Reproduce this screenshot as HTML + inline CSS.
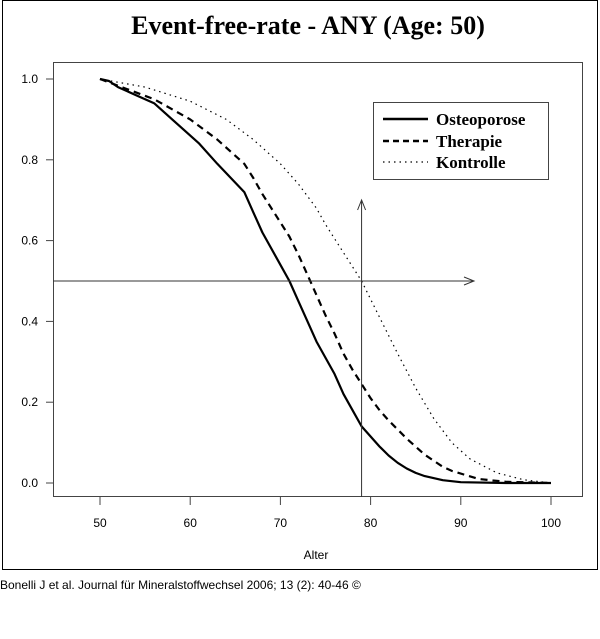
<!DOCTYPE html>
<html><head><meta charset="utf-8"><style>
body{margin:0;background:#fff;width:600px;height:634px;overflow:hidden}
svg text{font-family:"Liberation Sans",sans-serif}
</style></head><body>
<svg width="600" height="634">
<rect x="2.5" y="0.5" width="595" height="569" fill="#fff" stroke="#000"/>
<text x="308" y="34" text-anchor="middle" font-size="26" font-weight="bold" style="font-family:'Liberation Serif',serif">Event-free-rate - ANY (Age: 50)</text>
<rect x="53.5" y="62.5" width="529" height="434" fill="none" stroke="#444"/>
<g id="axes"></g>
<g id="series"></g>
<text x="316" y="559" text-anchor="middle" font-size="12">Alter</text>
<text x="0" y="589" font-size="12">Bonelli J et al. Journal für Mineralstoffwechsel 2006; 13 (2): 40-46 ©</text>
<g>
<rect x="373.5" y="102.5" width="175" height="77" fill="#fff" stroke="#444"/>
<line x1="383" y1="119" x2="428" y2="119" stroke="#000" stroke-width="2.5"/>
<line x1="383" y1="141" x2="428" y2="141" stroke="#000" stroke-width="2.5" stroke-dasharray="6,4"/>
<line x1="383" y1="162" x2="428" y2="162" stroke="#000" stroke-width="1.2" stroke-dasharray="1.5,4"/>
<text x="436" y="125" font-size="17" font-weight="bold" style="font-family:'Liberation Serif',serif">Osteoporose</text>
<text x="436" y="147" font-size="17" font-weight="bold" style="font-family:'Liberation Serif',serif">Therapie</text>
<text x="436" y="168" font-size="17" font-weight="bold" style="font-family:'Liberation Serif',serif">Kontrolle</text>
</g>
</svg>
<script>
const xTicks=[50,60,70,80,90,100];
const yTicks=[0,0.2,0.4,0.6,0.8,1.0];
const osteoX=[50,51,52,54,56,58,61,63,66,67,68,70,71,72,73,74,76,77,78,79,80,81,82,83,84,85,86,88,90,95,100];
const osteoY=[1,0.995,0.98,0.96,0.94,0.9,0.84,0.79,0.72,0.67,0.62,0.54,0.5,0.45,0.4,0.35,0.27,0.22,0.18,0.14,0.115,0.09,0.068,0.05,0.036,0.025,0.017,0.007,0.002,0,0];
const theraX=[50,53,56,58,60,63,66,67,68,70,71,72,73,74,75,76,77,78,79,80,81,82,84,86,88,89,92,95,100];
const theraY=[1,0.975,0.95,0.925,0.9,0.85,0.79,0.755,0.715,0.645,0.61,0.565,0.515,0.465,0.415,0.37,0.32,0.28,0.245,0.21,0.18,0.155,0.11,0.07,0.04,0.03,0.01,0.003,0];
const kontX=[50,55,60,64,67,70,72,74,75,77,79,81,83,85,87,89,91,94,97,100];
const kontY=[1,0.98,0.945,0.9,0.85,0.79,0.74,0.68,0.64,0.57,0.5,0.41,0.32,0.235,0.16,0.1,0.06,0.025,0.008,0];
const crossAge=79, crossRate=0.5;
const sx=v=>100+(v-50)*(451/50);
const sy=v=>483-v*404;
const NS="http://www.w3.org/2000/svg";
const ax=document.getElementById('axes'), se=document.getElementById('series');
function mk(tag,attrs,parent){const e=document.createElementNS(NS,tag);for(const k in attrs)e.setAttribute(k,attrs[k]);parent.appendChild(e);return e;}
xTicks.forEach(t=>{
 const l=mk('line',{x1:sx(t),x2:sx(t),y1:497,y2:505,stroke:'#444'},ax);
 
 
 const tx=mk('text',{x:sx(t),y:527,'text-anchor':'middle','font-size':12},ax);tx.textContent=t;
 
 
});
yTicks.forEach(t=>{
 const l=mk('line',{x1:46,x2:53,y1:sy(t),y2:sy(t),stroke:'#444'},ax);
 
 
 const tx=mk('text',{x:38,y:sy(t)+4,'text-anchor':'end','font-size':12},ax);tx.textContent=t.toFixed(1);
 
 
});
function path(xs,ys){return xs.map((x,i)=>(i?'L':'M')+sx(x).toFixed(1)+','+sy(ys[i]).toFixed(1)).join('');}
const p1=mk('path',{d:path(osteoX,osteoY),fill:'none',stroke:'#000','stroke-width':2.2,'stroke-linejoin':'round'},se);


const p2=mk('path',{d:path(theraX,theraY),fill:'none',stroke:'#000','stroke-width':2.2,'stroke-dasharray':'7,5'},se);


const p3=mk('path',{d:path(kontX,kontY),fill:'none',stroke:'#000','stroke-width':1.2,'stroke-dasharray':'1.5,4'},se);


const vx=sx(crossAge), hy=sy(crossRate);
const v=mk('path',{d:`M${vx},497 L${vx},200 M${vx-4},210 L${vx},200 L${vx+4},210`,fill:'none',stroke:'#333','stroke-width':1},se);


const h=mk('path',{d:`M53,${hy} L474,${hy} M464,${hy-4} L474,${hy} L464,${hy+4}`,fill:'none',stroke:'#333','stroke-width':1},se);


</script>
</body></html>
